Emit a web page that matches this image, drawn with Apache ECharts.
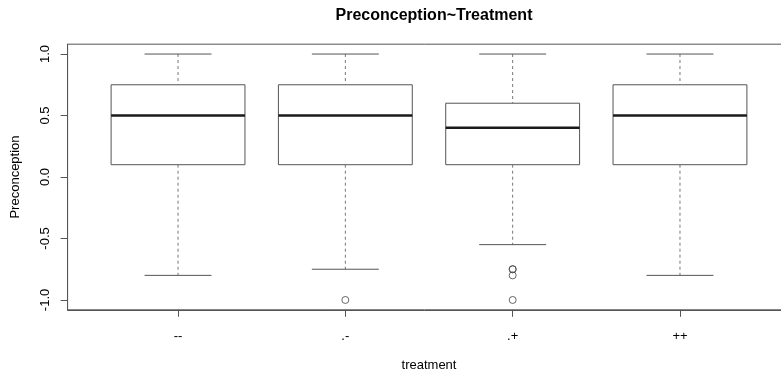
<!DOCTYPE html>
<html>
<head>
<meta charset="utf-8">
<script src="https://cdn.jsdelivr.net/npm/echarts@6/dist/echarts.min.js"></script>
<style>html,body{margin:0;padding:0;background:#fff}#c{width:781px;height:373px}</style>
</head>
<body>
<div id="c"></div>
<script>
const categories = ['--', '.-', '.+', '++'];
const whiskerLow = [-0.8, -0.75, -0.55, -0.8];
const q1 = [0.1, 0.1, 0.1, 0.1];
const median = [0.5, 0.5, 0.4, 0.5];
const q3 = [0.75, 0.75, 0.6, 0.75];
const whiskerHigh = [1.0, 1.0, 1.0, 1.0];
const outlierGroup = [2, 3, 3, 3, 3];
const outlierValue = [-1.0, -0.75, -0.75, -0.8, -1.0];
const yTicks = [-1.0, -0.5, 0.0, 0.5, 1.0];
const xTicks = [1, 2, 3, 4];

const FONT = '"Liberation Sans", Arial, sans-serif';
const BOX_HALF = 0.4, CAP_HALF = 0.2;
const LINE = '#555';

const boxData = categories.map((c, i) => [i + 1, whiskerLow[i], q1[i], median[i], q3[i], whiskerHigh[i]]);
const outData = outlierGroup.map((g, i) => [g, outlierValue[i]]);

const chart = echarts.init(document.getElementById('c'), null, {renderer: 'canvas'});
chart.setOption({
  animation: false,
  backgroundColor: '#fff',
  title: {
    text: 'Preconception~Treatment',
    left: 429, top: 3, textAlign: 'center',
    textStyle: {fontFamily: FONT, fontSize: 16, fontWeight: 'bold', color: '#000'}
  },
  grid: {left: 67.6, top: 44.2, width: 722.8, height: 265.6, outerBoundsMode: 'none', containLabel: false,
    show: true, borderColor: LINE, borderWidth: 1, backgroundColor: 'transparent'},
  xAxis: {
    type: 'value', min: 0.34, max: 4.66, position: 'bottom',
    name: 'treatment', nameLocation: 'middle', nameGap: 49,
    nameTextStyle: {fontFamily: FONT, fontSize: 13, color: '#000'},
    axisLine: {show: true, onZero: false, lineStyle: {color: LINE, width: 1}},
    splitLine: {show: false},
    axisTick: {show: true, inside: false, length: 7, customValues: xTicks, lineStyle: {color: LINE, width: 1}},
    axisLabel: {customValues: xTicks, margin: 20, fontFamily: FONT, fontSize: 13, color: '#000',
      formatter: v => categories[Math.round(v) - 1]}
  },
  yAxis: {
    type: 'value', min: -1.08, max: 1.08, position: 'left',
    name: 'Preconception', nameLocation: 'middle', nameGap: 46,
    nameTextStyle: {fontFamily: FONT, fontSize: 13, color: '#000'},
    axisLine: {show: true, onZero: false, lineStyle: {color: LINE, width: 1}},
    splitLine: {show: false},
    axisTick: {show: true, inside: false, length: 7, customValues: yTicks, lineStyle: {color: LINE, width: 1}},
    axisLabel: {customValues: yTicks, rotate: 90, margin: 16, fontFamily: FONT, fontSize: 13, color: '#000',
      formatter: v => v.toFixed(1)}
  },
  series: [
    {
      type: 'custom',
      data: boxData,
      clip: false,
      renderItem: function (params, api) {
        const x = api.value(0);
        const lo = api.value(1), b1 = api.value(2), md = api.value(3), b3 = api.value(4), hi = api.value(5);
        const pLoC = api.coord([x, lo]);
        const pHiC = api.coord([x, hi]);
        const pQ1C = api.coord([x, b1]);
        const pQ3C = api.coord([x, b3]);
        const bl = api.coord([x - BOX_HALF, b3]);
        const br = api.coord([x + BOX_HALF, b1]);
        const ml = api.coord([x - BOX_HALF, md]);
        const mr = api.coord([x + BOX_HALF, md]);
        const cl = api.coord([x - CAP_HALF, lo])[0];
        const cr = api.coord([x + CAP_HALF, lo])[0];
        const thin = {stroke: LINE, lineWidth: 1, fill: null};
        const dashed = {stroke: '#777', lineWidth: 1, lineDash: [3, 3]};
        return {
          type: 'group',
          children: [
            {type: 'line', shape: {x1: pHiC[0], y1: pHiC[1], x2: pQ3C[0], y2: pQ3C[1]}, style: dashed},
            {type: 'line', shape: {x1: pQ1C[0], y1: pQ1C[1], x2: pLoC[0], y2: pLoC[1]}, style: dashed},
            {type: 'line', shape: {x1: cl, y1: pHiC[1], x2: cr, y2: pHiC[1]}, style: thin},
            {type: 'line', shape: {x1: cl, y1: pLoC[1], x2: cr, y2: pLoC[1]}, style: thin},
            {type: 'rect', shape: {x: bl[0], y: bl[1], width: br[0] - bl[0], height: br[1] - bl[1]}, style: {stroke: LINE, lineWidth: 1, fill: '#fff'}},
            {type: 'line', shape: {x1: ml[0], y1: ml[1], x2: mr[0], y2: mr[1]}, style: {stroke: '#1a1a1a', lineWidth: 2.6}}
          ]
        };
      }
    },
    {
      type: 'scatter',
      data: outData,
      symbol: 'circle',
      symbolSize: 7,
      itemStyle: {color: 'rgba(0,0,0,0)', borderColor: '#444', borderWidth: 1},
      emphasis: {disabled: true}
    }
  ]
});
</script>
</body>
</html>
